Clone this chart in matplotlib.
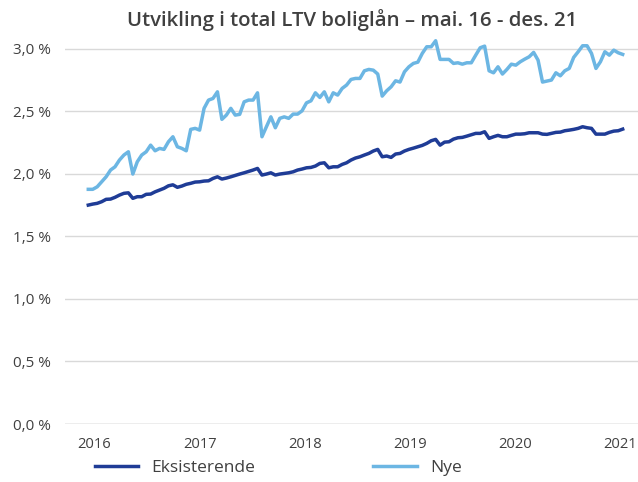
import numpy as np
import matplotlib
matplotlib.use('Agg')
import matplotlib.pyplot as plt

plt.rcParams['font.family'] = ['Open Sans', 'DejaVu Sans']

# LTV, percent, semi-monthly readings
eksisterende = [
    1.749, 1.757, 1.763, 1.776, 1.795, 1.797, 1.811, 1.829, 1.843, 1.847,
    1.803, 1.816, 1.816, 1.835, 1.837, 1.855, 1.869, 1.883, 1.903, 1.911,
    1.891, 1.901, 1.915, 1.923, 1.933, 1.935, 1.941, 1.943, 1.962, 1.975,
    1.957, 1.965, 1.975, 1.986, 1.997, 2.007, 2.018, 2.029, 2.042, 1.989,
    1.997, 2.007, 1.989, 1.997, 2.002, 2.007, 2.015, 2.029, 2.037, 2.047,
    2.050, 2.061, 2.082, 2.087, 2.047, 2.055, 2.055, 2.074, 2.087, 2.109,
    2.125, 2.135, 2.149, 2.162,
    2.181, 2.194, 2.135, 2.141, 2.130, 2.157, 2.162, 2.181, 2.194, 2.204,
    2.215, 2.226, 2.242, 2.263, 2.274, 2.228, 2.252, 2.255, 2.276, 2.287,
    2.290, 2.300, 2.311, 2.322, 2.322, 2.335, 2.282, 2.295, 2.306, 2.295,
    2.295, 2.306, 2.316, 2.316, 2.319, 2.327, 2.327, 2.327, 2.316, 2.314,
    2.322, 2.330, 2.332, 2.343, 2.348, 2.354, 2.362, 2.375, 2.367, 2.362,
    2.316, 2.316, 2.316, 2.330, 2.340, 2.343, 2.356,
]
nye = [
    1.875, 1.875, 1.895, 1.935, 1.975, 2.029, 2.055, 2.109, 2.149, 2.175,
    1.997, 2.095, 2.149, 2.175, 2.228, 2.183, 2.202, 2.194, 2.255, 2.295,
    2.215, 2.202, 2.183, 2.354, 2.362, 2.348, 2.522, 2.588, 2.601, 2.654,
    2.434, 2.468, 2.522, 2.468, 2.474, 2.574, 2.588, 2.588, 2.646, 2.295,
    2.375, 2.454, 2.367, 2.442, 2.454, 2.442, 2.476, 2.476, 2.502, 2.566,
    2.582, 2.646, 2.609, 2.654, 2.574, 2.646, 2.628, 2.681, 2.708, 2.753,
    2.761, 2.761, 2.822, 2.833,
    2.827, 2.796, 2.620, 2.662, 2.694, 2.742, 2.732, 2.814, 2.854, 2.881,
    2.891, 2.961, 3.014, 3.014, 3.062, 2.913, 2.913, 2.913, 2.881, 2.886,
    2.875, 2.886, 2.886, 2.947, 3.006, 3.019, 2.822, 2.806, 2.854, 2.796,
    2.833, 2.875, 2.867, 2.894, 2.915, 2.934, 2.969, 2.907, 2.732, 2.740,
    2.748, 2.806, 2.782, 2.822, 2.841, 2.929, 2.974, 3.022, 3.022, 2.961,
    2.841, 2.894, 2.974, 2.947, 2.987, 2.966, 2.953,
]
year_labels = ['2016', '2017', '2018', '2019', '2020', '2021']
y_ticks = [0.0, 0.5, 1.0, 1.5, 2.0, 2.5, 3.0]

dark = '#1f3c96'
light = '#6cb6e3'
text_col = '#404040'

fig = plt.figure(figsize=(6.38, 4.82), dpi=100)
W, H = 638, 482
# axes box in pixels: left 65, right 638, bottom y=424, top y=36
ax = fig.add_axes([65 / W, (H - 424) / H, (638 - 65) / W, (424 - 36) / H])

x = np.arange(len(eksisterende))
ax.plot(x, eksisterende, color=dark, lw=2.5, label='Eksisterende', solid_joinstyle='round')
ax.plot(np.arange(len(nye)), nye, color=light, lw=2.5, label='Nye', solid_joinstyle='round')

ax.set_ylim(0, 3.1)
ax.set_xlim(-5.23, 123.44)
ax.set_yticks(y_ticks)
ax.set_yticklabels([f'{v:.1f} %'.replace('.', ',') for v in y_ticks])
ax.set_xticks(np.linspace(1.4, 119.4, len(year_labels)))
ax.set_xticklabels(year_labels)
ax.tick_params(axis='both', length=0, labelsize=11, colors=text_col)
ax.tick_params(axis='x', labelsize=10.6, pad=9)
ax.tick_params(axis='y', pad=10)

for v in y_ticks[1:]:
    ax.axhline(v, color='#d9d9d9', lw=1, zorder=0)
ax.axhline(0, color='#a6a6a6', lw=1, zorder=0)
for s in ax.spines.values():
    s.set_visible(False)

fig.text(352 / W, 1 - 20 / H, 'Utvikling i total LTV boliglån – mai. 16 - des. 21',
         ha='center', va='center', fontsize=14.7, fontweight='semibold', color=text_col)

fig.legend(loc='center left', bbox_to_anchor=(95 / W, 1 - 468 / H), ncol=2,
           frameon=False, fontsize=12.5, handlelength=2.5, columnspacing=6.8,
           handletextpad=0.75, borderpad=0, borderaxespad=0, labelcolor=text_col)

fig.savefig('out.png', dpi=100)
